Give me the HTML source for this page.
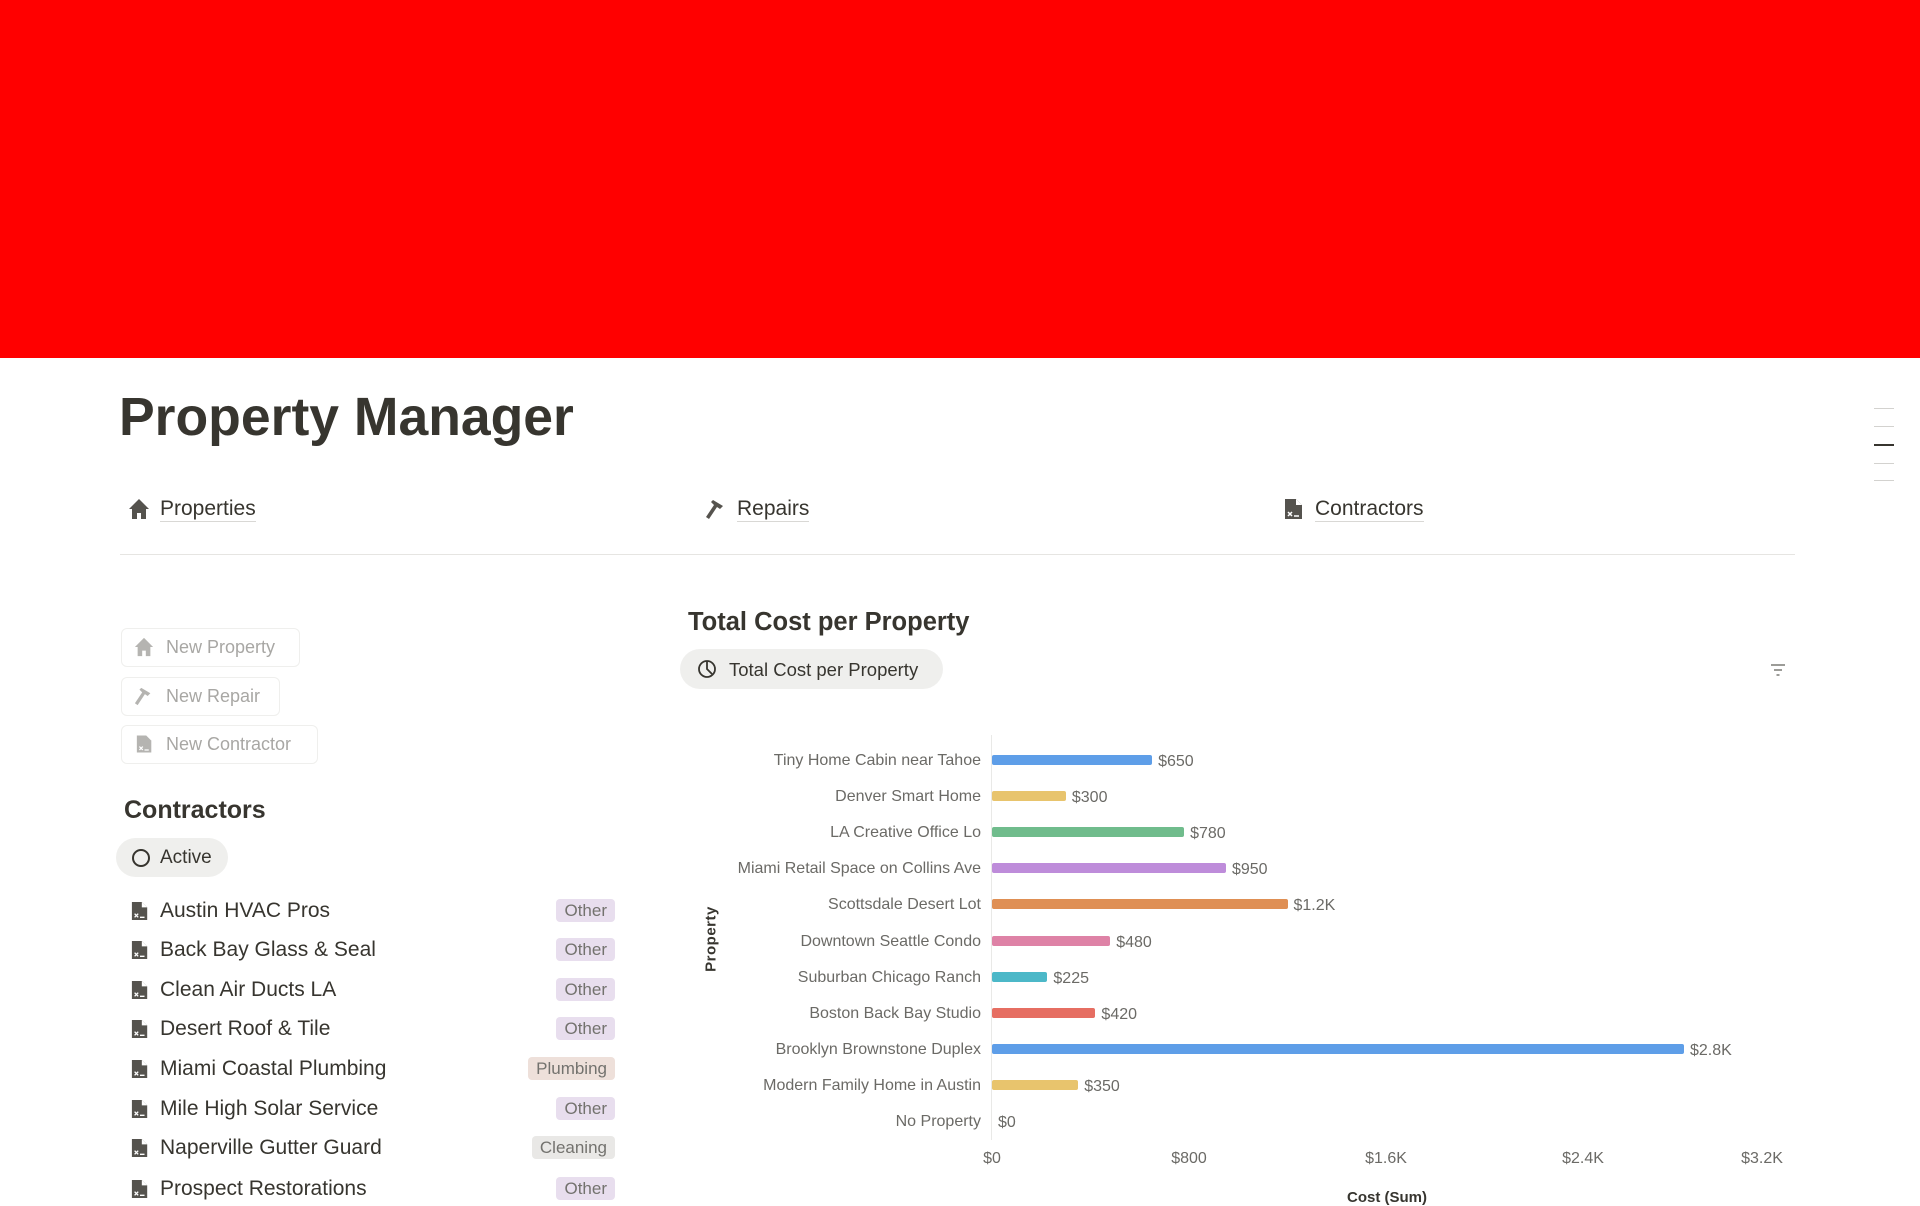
<!DOCTYPE html>
<html><head><meta charset="utf-8"><style>
*{margin:0;padding:0;box-sizing:border-box}
body{width:1920px;height:1199px;overflow:hidden;background:#fff;font-family:"Liberation Sans",sans-serif;color:#37352f;position:relative}
.a{position:absolute;white-space:nowrap}
.nav{font-size:21px;border-bottom:1px solid #d9d8d5;line-height:24px}
.btn{border:1px solid #efefed;border-radius:6px;color:#a8a7a4;font-size:18px;height:39px;line-height:37px;padding-left:44px}
.row{font-size:21px;line-height:24px}
.tag{font-size:17px;color:#73726e;height:23px;line-height:23px;padding:0 8px;border-radius:4px;right:1305px}
.cat{font-size:16px;color:#6b6a66;text-align:right;right:939px;line-height:18px}
.bar{height:10px;border-radius:2px;left:992px}
.val{font-size:16px;color:#6b6a66;line-height:18px}
.tick{font-size:16px;color:#6b6a66;transform:translateX(-50%)}
.doc{width:18px;height:22px}
</style></head><body>
<div class="a" style="left:0;top:0;width:1920px;height:358px;background:#ff0000"></div>
<div class="a" style="left:119px;top:386px;font-size:53.5px;font-weight:bold;line-height:64px">Property Manager</div>

<svg class="a" style="left:128px;top:498px" width="22" height="22" viewBox="0 0 22 22"><path d="M11 1L1 11h3v10h5v-6h4v6h5V11h3z" fill="#55534e"/></svg>
<div class="a nav" style="left:160px;top:497px">Properties</div>
<svg class="a" style="left:705px;top:498px" width="22" height="22" viewBox="0 0 22 22"><path d="M8 2l10 6-3 3-3-2-8 12-3-2 8-12-3-3z" fill="#55534e"/></svg>
<div class="a nav" style="left:737px;top:497px">Repairs</div>
<svg class="a" style="left:1284px;top:498px" width="20" height="22" viewBox="0 0 20 22"><path d="M1 1h11l6 6v14H1z" fill="#55534e"/><path d="M12 1v6h6" fill="#fff"/><path d="M4 14l4 4M8 14l-4 4M10 18h5" stroke="#fff" stroke-width="1.5"/></svg>
<div class="a nav" style="left:1315px;top:497px">Contractors</div>
<div class="a" style="left:120px;top:554px;width:1675px;height:1px;background:#e6e5e2"></div>

<div class="a" style="left:1874px;top:408px;width:20px;height:1px;background:#d3d2cf"></div>
<div class="a" style="left:1874px;top:426px;width:20px;height:1px;background:#d3d2cf"></div>
<div class="a" style="left:1874px;top:444px;width:20px;height:2px;background:#37352f"></div>
<div class="a" style="left:1874px;top:463px;width:20px;height:1px;background:#d3d2cf"></div>
<div class="a" style="left:1874px;top:480px;width:20px;height:1px;background:#d3d2cf"></div>

<div class="a btn" style="left:121px;top:628px;width:179px">New Property</div>
<svg class="a" style="left:134px;top:637px" width="20" height="20" viewBox="0 0 22 22"><path d="M11 1L1 11h3v10h5v-6h4v6h5V11h3z" fill="#b5b4b1"/></svg>
<div class="a btn" style="left:121px;top:677px;width:159px">New Repair</div>
<svg class="a" style="left:134px;top:686px" width="20" height="20" viewBox="0 0 22 22"><path d="M8 2l10 6-3 3-3-2-8 12-3-2 8-12-3-3z" fill="#b5b4b1"/></svg>
<div class="a btn" style="left:121px;top:725px;width:197px">New Contractor</div>
<svg class="a" style="left:136px;top:734px" width="17" height="20" viewBox="0 0 20 22"><path d="M1 1h11l6 6v14H1z" fill="#b5b4b1"/><path d="M4 14l4 4M8 14l-4 4M10 18h5" stroke="#fff" stroke-width="1.5"/></svg>

<div class="a" style="left:124px;top:795px;font-size:25px;font-weight:bold;line-height:30px">Contractors</div>
<div class="a" style="left:116px;top:838px;width:112px;height:39px;border-radius:20px;background:#efefed"></div>
<div class="a" style="left:132px;top:849px;width:18px;height:18px;border:2px solid #37352f;border-radius:50%"></div>
<div class="a" style="left:160px;top:847px;font-size:19px;line-height:22px">Active</div>

<div id="list"></div>
<script>
var rows=[["Austin HVAC Pros","Other"],["Back Bay Glass & Seal","Other"],["Clean Air Ducts LA","Other"],["Desert Roof & Tile","Other"],["Miami Coastal Plumbing","Plumbing"],["Mile High Solar Service","Other"],["Naperville Gutter Guard","Cleaning"],["Prospect Restorations","Other"]];
var ys=[911,950,990,1029,1069,1109,1148,1189];
var bg={Other:"#e8deee",Plumbing:"#eee0da",Cleaning:"#e9e8e6"};
var h="";
rows.forEach(function(r,i){var y=ys[i];
h+='<svg class="a doc" style="left:131px;top:'+(y-11)+'px" viewBox="0 0 20 22"><path d="M1 1h11l6 6v14H1z" fill="#55534e"/><path d="M12 1v6h6" fill="#fff"/><path d="M4 14l4 4M8 14l-4 4M10 18h5" stroke="#fff" stroke-width="1.5"/></svg>';
h+='<div class="a row" style="left:160px;top:'+(y-12)+'px">'+r[0].replace("&","&amp;")+'</div>';
h+='<div class="a tag" style="top:'+(y-12)+'px;background:'+bg[r[1]]+'">'+r[1]+'</div>';});
document.getElementById("list").innerHTML=h;
</script>

<div class="a" style="left:688px;top:607px;font-size:25.5px;font-weight:bold;line-height:30px">Total Cost per Property</div>
<div class="a" style="left:680px;top:649px;width:263px;height:40px;border-radius:20px;background:#efefed"></div>
<svg class="a" style="left:697px;top:659px" width="20" height="20" viewBox="0 0 20 20"><circle cx="10" cy="10" r="8" fill="none" stroke="#37352f" stroke-width="1.8"/><path d="M10 2v8l5 5" fill="none" stroke="#37352f" stroke-width="1.8"/></svg>
<div class="a" style="left:729px;top:659px;font-size:18.5px;line-height:22px">Total Cost per Property</div>
<svg class="a" style="left:1770px;top:663px" width="16" height="14" viewBox="0 0 16 14"><path d="M1 2h14M4 7h8M6.5 12h3" stroke="#7c7b77" stroke-width="1.5"/></svg>

<div class="a" style="left:991px;top:735px;width:1px;height:405px;background:#e9e9e7"></div>
<div id="chart"></div>
<script>
var d=[["Tiny Home Cabin near Tahoe",650,"$650","#5e9ee8"],["Denver Smart Home",300,"$300","#e8c46d"],["LA Creative Office Lo",780,"$780","#70bc8c"],["Miami Retail Space on Collins Ave",950,"$950","#be8cda"],["Scottsdale Desert Lot",1200,"$1.2K","#df8f54"],["Downtown Seattle Condo",480,"$480","#de82a6"],["Suburban Chicago Ranch",225,"$225","#4cb8c8"],["Boston Back Bay Studio",420,"$420","#e66e62"],["Brooklyn Brownstone Duplex",2810,"$2.8K","#5e9ee8"],["Modern Family Home in Austin",350,"$350","#e8c46d"],["No Property",0,"$0","#ccc"]];
var h="",k=197/800;
d.forEach(function(r,i){var y=760+i*36.1;var w=r[1]*k;
h+='<div class="a cat" style="top:'+(y-8)+'px">'+r[0]+'</div>';
if(w>0)h+='<div class="a bar" style="top:'+(y-5)+'px;width:'+w+'px;background:'+r[3]+'"></div>';
h+='<div class="a val" style="left:'+(998+w)+'px;top:'+(y-7)+'px">'+r[2]+'</div>';});
[["$0",992],["$800",1189],["$1.6K",1386],["$2.4K",1583],["$3.2K",1762]].forEach(function(t){h+='<div class="a tick" style="left:'+t[1]+'px;top:1150px">'+t[0]+'</div>';});
document.getElementById("chart").innerHTML=h;
</script>
<div class="a" style="left:711px;top:939px;transform:translate(-50%,-50%) rotate(-90deg);font-size:15px;font-weight:bold;letter-spacing:0.5px">Property</div>
<div class="a" style="left:1387px;top:1189px;transform:translateX(-50%);font-size:15px;font-weight:bold">Cost (Sum)</div>
</body></html>
